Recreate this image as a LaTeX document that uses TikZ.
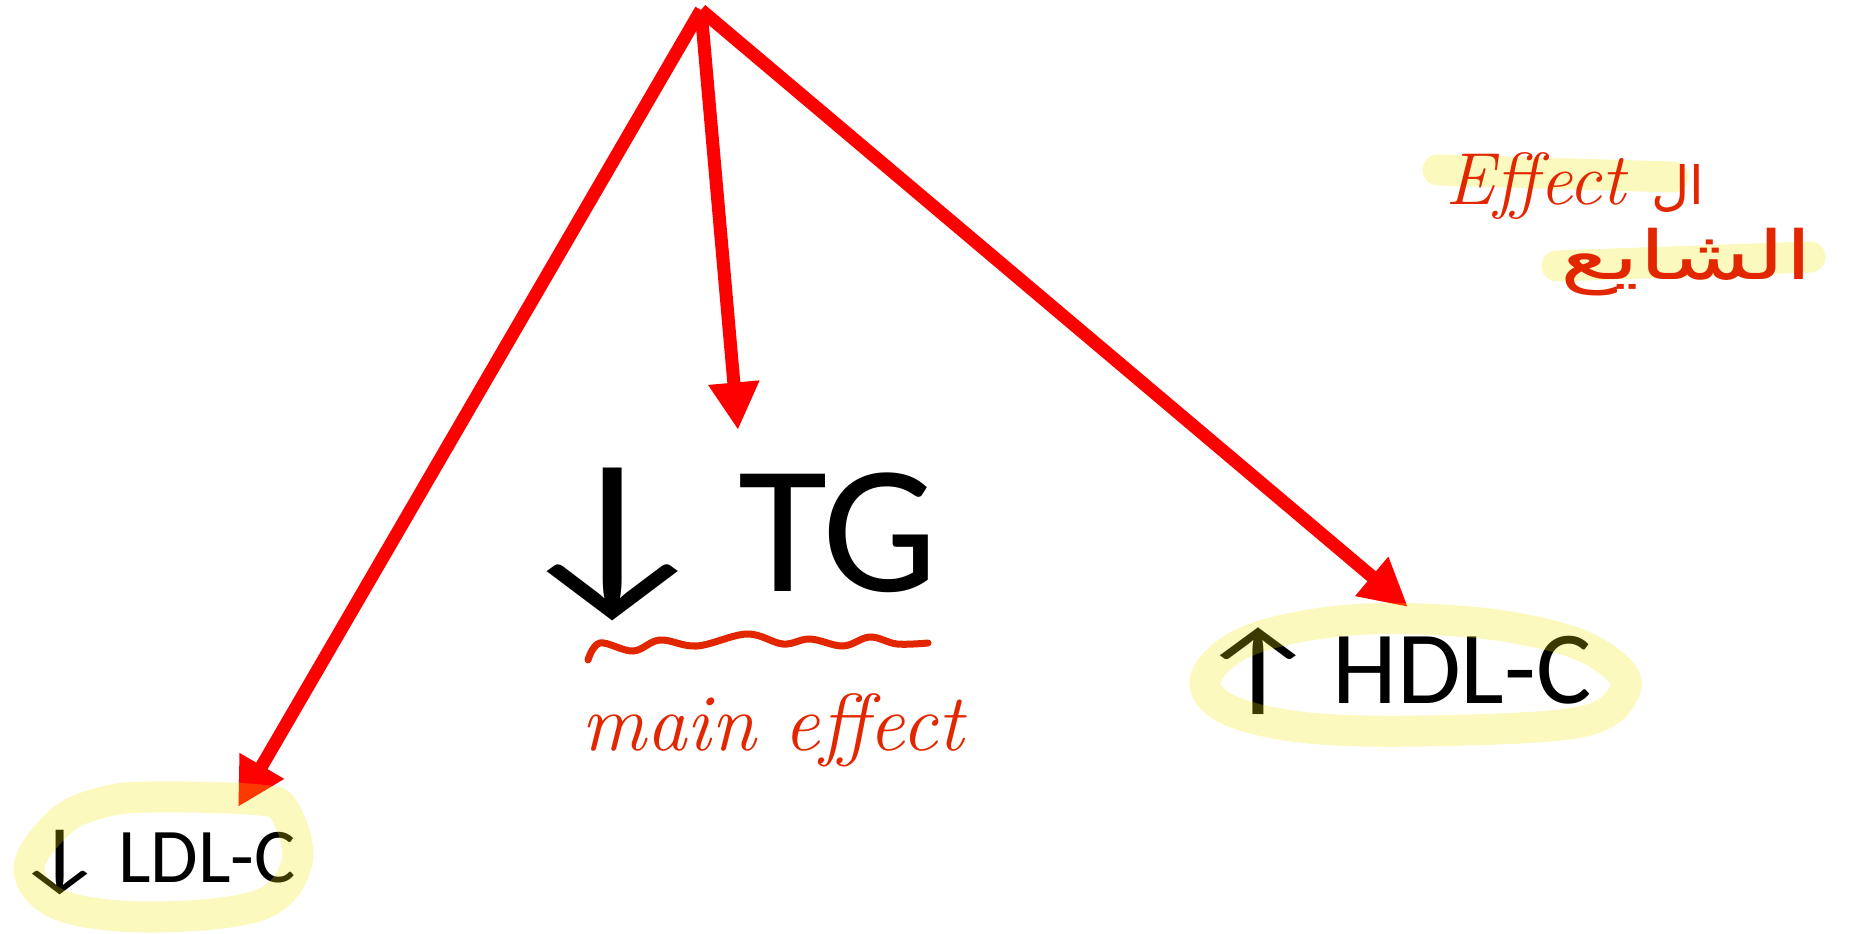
\documentclass[tikz,border=0pt]{standalone}
\usepackage{fontspec}
\usepackage{graphicx}
\usetikzlibrary{arrows.meta}
\newfontfamily\calib{Carlito}
\newfontfamily\arabicfont[Script=Arabic]{DejaVu Sans}
\TeXXeTstate=1
\definecolor{handred}{RGB}{226,38,0}
\definecolor{glowyellow}{RGB}{243,231,0}
\newcommand{\dnarrow}{\scalebox{1.33}[1]{↓}}
\newcommand{\uparr}{\scalebox{1.36}[1]{↑}}
\tikzset{
    redarrow/.style={draw=red, line width=0.13cm, -{Triangle[length=0.475cm, width=0.48cm]}},
    glow/.style={draw=glowyellow, line width=0.31cm, line cap=round, line join=round, opacity=0.25},
    handline/.style={draw=handred, line width=0.07cm, line cap=round},
    biglabel/.style={font=\calib, anchor=base west, inner sep=0pt},
    handtext/.style={text=handred, inner sep=0pt}
}
\begin{document}
\begin{tikzpicture}[x=0.01cm, y=-0.01cm]
    \useasboundingbox (0,0) rectangle (1852,934);

    % Top point and arrow tips
    \coordinate (apex) at (701,10);
    \coordinate (tgtip) at (738,430);
    \coordinate (ldltip) at (238,807);
    \coordinate (hdltip) at (1408,607);

    % Red arrows
    \draw[redarrow] (apex) -- (ldltip);
    \draw[redarrow] (apex) -- (tgtip);
    \draw[redarrow] (apex) -- (hdltip);

    % Labels
    \node[biglabel, font=\calib\fontsize{52}{60}\selectfont] (tg) at (502,591) {\dnarrow\kern-0.14em\ TG};
    \node[biglabel, font=\calib\fontsize{22}{26}\selectfont] (ldl) at (13,882) {\dnarrow\kern-0.08em\ LDL-C};
    \node[biglabel, font=\calib\fontsize{29.5}{34}\selectfont] (hdl) at (1194,703) {\uparr\kern-0.13em\ HDL-C};

    % Wavy underline and notes
    \draw[handline] plot[smooth, tension=0.6] coordinates {(588,660) (600,643) (633,651) (660,640) (697,646) (747,634) (783,644) (810,639) (843,646) (870,637) (897,644) (928,643)};
    \node[handtext, anchor=base west, font=\itshape\fontsize{23}{27}\selectfont] (maineff) at (581,750) {main effect};

    \draw[glow] (1438,170) -- (1673,177);
    \draw[glow] (1557,266) -- (1810,257);
    \node[handtext, anchor=base west, font=\itshape\fontsize{21}{25}\selectfont] (effect) at (1445,205) {Effect {\upshape\arabicfont\fontsize{15}{18}\selectfont\beginR ال\endR}};
    \node[handtext, anchor=base east, font=\arabicfont\fontsize{24}{28}\selectfont] (common) at (1813,280) {\scalebox{1.15}[0.8]{\beginR الشايع\endR}};

    % Highlight loops
    \draw[glow] plot[smooth cycle, tension=0.6] coordinates {(150,797) (260,800) (285,812) (297,862) (260,905) (150,917) (60,905) (29,868) (60,822) (100,803)};
    \draw[glow] plot[smooth cycle, tension=0.6] coordinates {(1206,677) (1250,640) (1350,620) (1470,622) (1560,638) (1610,662) (1625,690) (1580,722) (1420,731) (1300,727) (1225,708)};
\end{tikzpicture}
\end{document}
